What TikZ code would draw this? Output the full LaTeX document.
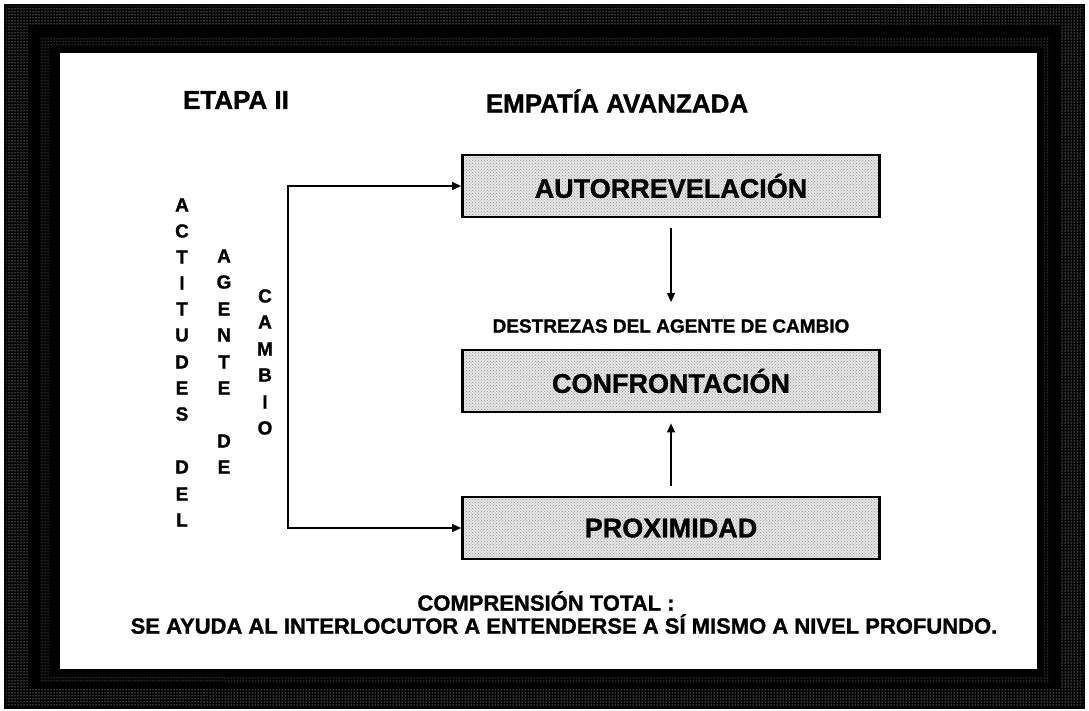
\documentclass[tikz,border=0pt]{standalone}
\usepackage{fontspec}
\setmainfont{Liberation Sans}[BoldFeatures={FakeBold=1.2}]
\usepackage{tikz}
\usetikzlibrary{positioning}
\usetikzlibrary{arrows.meta}
\usetikzlibrary{patterns}

\begin{document}
\begin{tikzpicture}[x=1pt,y=-1pt,
        head/.style={font=\bfseries\fontsize{26}{30}\selectfont, inner sep=0pt},
        vletter/.style={font=\bfseries\fontsize{19}{22}\selectfont, inner sep=0pt},
        skillbox/.style={draw, line width=2.8pt, minimum width=417pt, minimum height=62pt,
            preaction={fill=gray!22}, pattern=crosshatch dots, pattern color=gray!75,
            font=\bfseries\fontsize{27}{30}\selectfont},
        arr/.style={-{Triangle[length=9pt,width=8pt]}, line width=1.2pt},
        note/.style={font=\bfseries\fontsize{22}{25}\selectfont, inner sep=0pt}]
        \useasboundingbox (0,0) rectangle (1089,711);
        % marco
        \fill[black] (4,4) rectangle (1085,709);
        \fill[pattern=dots, pattern color=white, even odd rule]
            (6,6) rectangle (1083,707) (28,26) rectangle (1061,689);
        \fill[pattern=dots, pattern color=gray!60, even odd rule]
            (40,37) rectangle (1050,682) (50,46) rectangle (1044,676);
        \fill[white] (60,53) rectangle (1037,669);
        % titulos
        \node[head] (etapa) at (236,100) {ETAPA II};
        \node[head] (empatia) at (617,101) {EMPATÍA AVANZADA};
        % columnas verticales
        \foreach \ch/\yy [count=\i] in {A/205,C/231,T/257,I/283,T/309,U/335,D/362,E/388,S/414,D/467,E/494,L/520}
            \node[vletter] (act\i) at (182,\yy) {\ch};
        \foreach \ch/\yy [count=\i] in {A/256,G/282,E/309,N/335,T/362,E/388,D/441,E/467}
            \node[vletter] (age\i) at (224,\yy) {\ch};
        \foreach \ch/\yy [count=\i] in {C/296,A/322,M/349,B/375,I/402,O/428}
            \node[vletter] (cam\i) at (265,\yy) {\ch};
        % destrezas
        \node[skillbox] (autorrev) at (671,186) {AUTORREVELACIÓN};
        \node[skillbox] (confront) at (671,381) {CONFRONTACIÓN};
        \node[skillbox] (proximidad) at (671,528) {PROXIMIDAD};
        \node[font=\bfseries\fontsize{19}{22}\selectfont, inner sep=0pt] (destrezas) at (671,326) {DESTREZAS DEL AGENTE DE CAMBIO};
        \coordinate (fork) at (288,357);
        \draw[arr] (fork) |- (autorrev.west);
        \draw[arr] (fork) |- (proximidad.west);
        \draw[arr, shorten <=10pt, shorten >=17pt] (autorrev.south) -- (autorrev.south |- destrezas.north);
        \draw[arr, shorten <=10pt, shorten >=10pt] (proximidad.north) -- (confront.south);
        % nota final
        \node[note] (compren) at (546,601) {COMPRENSIÓN TOTAL :};
        \node[note] (ayuda) at (564,624) {SE AYUDA AL INTERLOCUTOR A ENTENDERSE A SÍ MISMO A NIVEL PROFUNDO.};
\end{tikzpicture}
\end{document}
